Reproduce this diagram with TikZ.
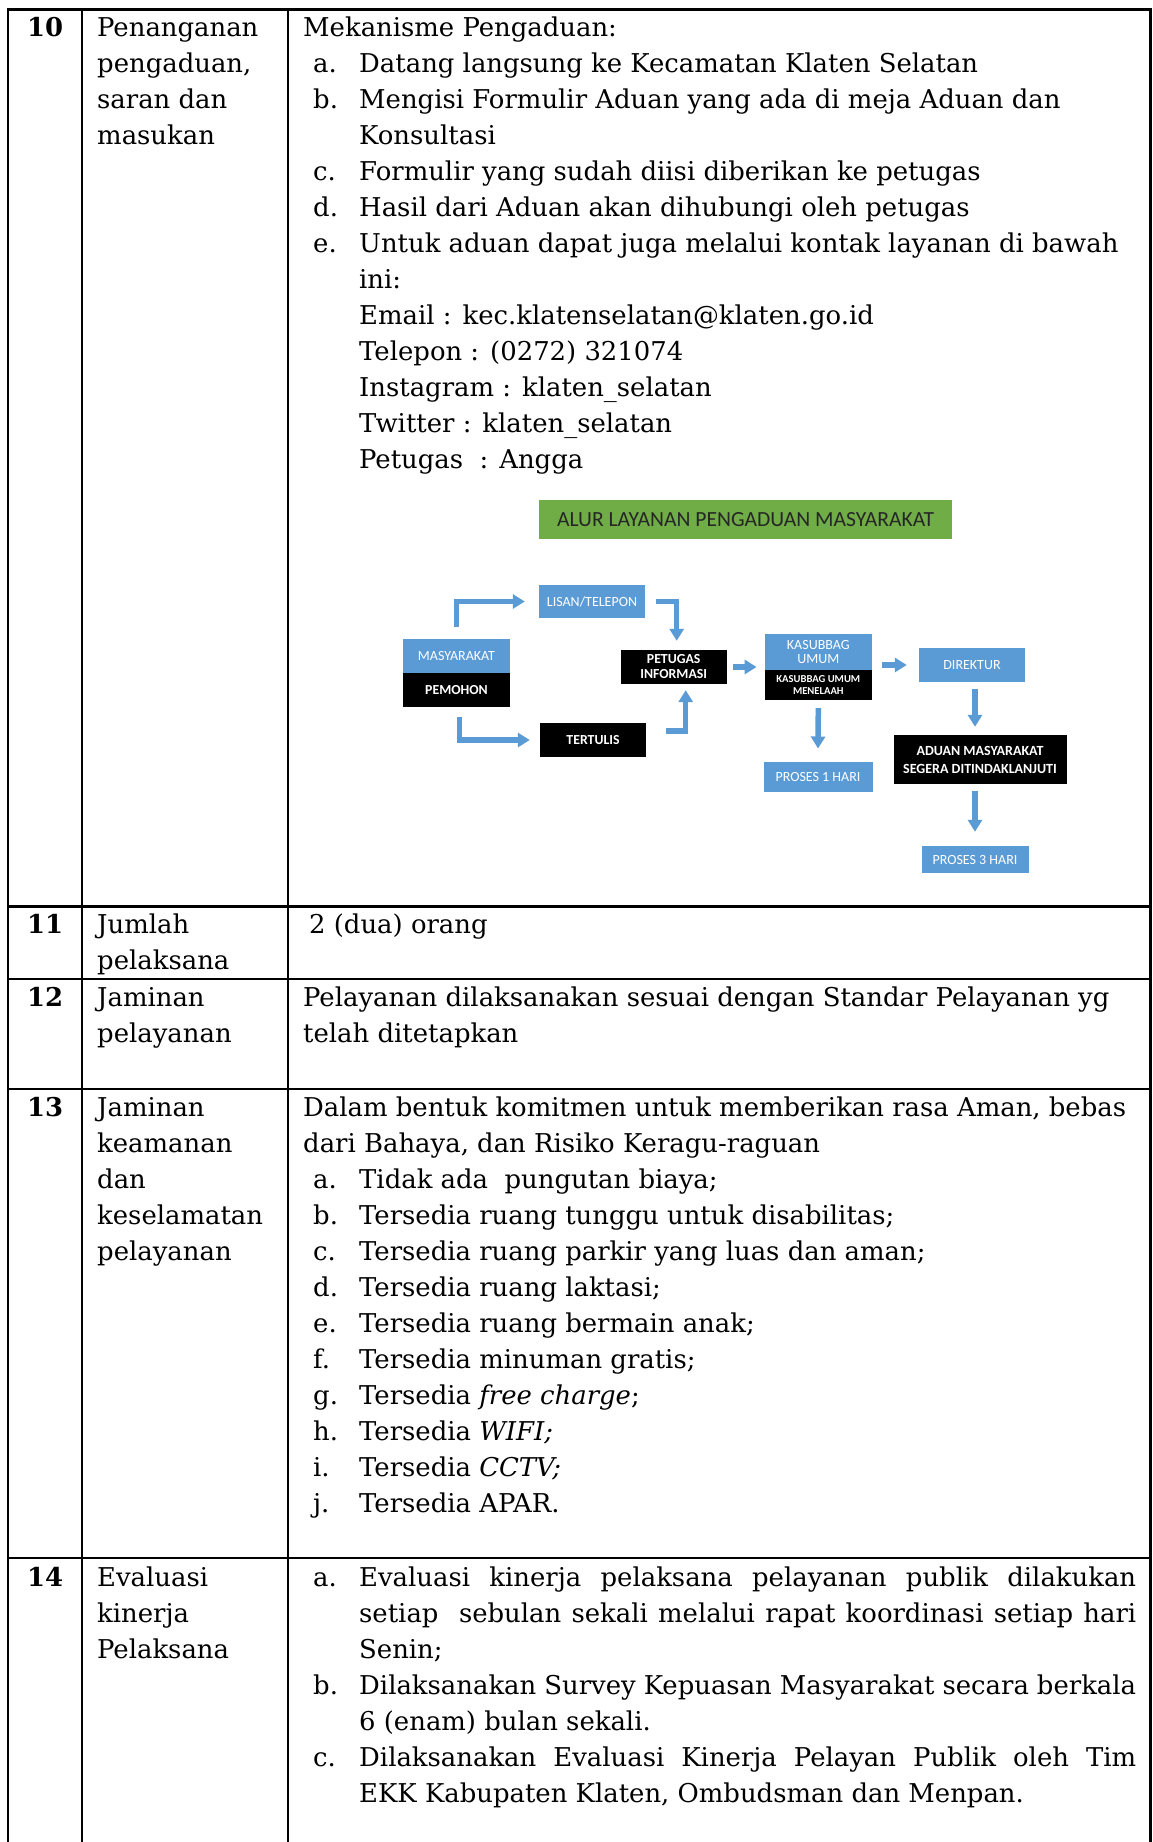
\documentclass[tikz,border=0pt]{standalone}
\usepackage{fontspec}
\setmainfont{DejaVu Serif}
\newfontfamily\diafont{Carlito}
\usetikzlibrary{arrows.meta}
\definecolor{boxblue}{HTML}{5B9BD5}
\definecolor{boxgreen}{HTML}{70AD47}
\newcommand\dfont{\diafont}
\begin{document}
\begin{tikzpicture}[x=1pt,y=-1pt,
  txt/.style={anchor=base west, inner sep=0pt, font=\fontsize{25.9}{36}\selectfont},
  num/.style={anchor=base west, inner sep=0pt, font=\fontsize{25.9}{36}\selectfont\bfseries},
  rule/.style={line width=2.6pt},
  bbox/.style={fill=boxblue, text=white, inner sep=0pt, align=center, font=\dfont\fontsize{14}{15}\selectfont},
  kbox/.style={fill=black, text=white, inner sep=0pt, align=center, font=\dfont\bfseries\fontsize{13.8}{15}\selectfont},
  arr/.style={draw=boxblue, line width=5.5pt, -{Triangle[length=12pt,width=14pt]}}]
\useasboundingbox (0,0) rectangle (1152,1842);
\fill[white] (0,0) rectangle (1152,1842);
% table grid
\draw[rule] (8,1842) -- (8,9.3) -- (1150.5,9.3) -- (1150.5,1842);
\draw[rule] (82,9.3) -- (82,1842);
\draw[rule] (288,9.3) -- (288,1842);
\foreach \yy in {906.5,979,1089,1558} \draw[rule] (8,\yy) -- (1150.5,\yy);

% ---- row 10
\node[num] (n10) at (27,36) {10};
\node[txt] (h10a) at (97,36) {Penanganan};
\node[txt] (h10b) at (97,72) {pengaduan,};
\node[txt] (h10c) at (97,108) {saran dan};
\node[txt] (h10d) at (97,144) {masukan};
\node[txt] (c10a) at (303,36) {Mekanisme Pengaduan:};
\node[txt] (l10a) at (313,72) {a.};
\node[txt] (t10a) at (359,72) {Datang langsung ke Kecamatan Klaten Selatan};
\node[txt] (l10b) at (313,108) {b.};
\node[txt] (t10b) at (359,108) {Mengisi Formulir Aduan yang ada di meja Aduan dan};
\node[txt] (t10b2) at (359,144) {Konsultasi};
\node[txt] (l10c) at (313,180) {c.};
\node[txt] (t10c) at (359,180) {Formulir yang sudah diisi diberikan ke petugas};
\node[txt] (l10d) at (313,216) {d.};
\node[txt] (t10d) at (359,216) {Hasil dari Aduan akan dihubungi oleh petugas};
\node[txt] (l10e) at (313,252) {e.};
\node[txt] (t10e) at (359,252) {Untuk aduan dapat juga melalui kontak layanan di bawah};
\node[txt] (t10e2) at (359,288) {ini:};
\node[txt] (t10e3) at (359,324) {Email : kec.klatenselatan@klaten.go.id};
\node[txt] (t10e4) at (359,360) {Telepon : (0272) 321074};
\node[txt] (t10e5) at (359,396) {Instagram : klaten\_selatan};
\node[txt] (t10e6) at (359,432) {Twitter : klaten\_selatan};
\node[txt] (t10e7) at (359,468) {Petugas\ \ : Angga};

% ---- diagram
\node[fill=boxgreen, minimum width=413pt, minimum height=39pt, inner sep=0pt, text=black!85,
  font=\dfont\fontsize{21.6}{22}\selectfont] (title) at (745.5,519.5) {ALUR LAYANAN PENGADUAN MASYARAKAT};
\node[bbox, minimum width=106pt, minimum height=33pt] (lisan) at (592,601.5) {LISAN/TELEPON};
\node[bbox, minimum width=107pt, minimum height=34pt] (masy) at (456.5,656.3) {MASYARAKAT};
\node[kbox, minimum width=107pt, minimum height=34pt] (pemohon) at (456.5,690.3) {PEMOHON};
\node[kbox, minimum width=106pt, minimum height=34pt] (petugas) at (673.7,667) {PETUGAS\\INFORMASI};
\node[kbox, minimum width=106pt, minimum height=34pt] (tertulis) at (593,740) {TERTULIS};
\node[bbox, minimum width=107pt, minimum height=36pt, font=\dfont\fontsize{14}{13.5}\selectfont] (kasub) at (818.3,652) {KASUBBAG\\UMUM};
\node[kbox, minimum width=107pt, minimum height=30pt, font=\dfont\bfseries\fontsize{10.6}{12}\selectfont] (telaah) at (818.3,685) {KASUBBAG UMUM\\MENELAAH};
\node[bbox, minimum width=106pt, minimum height=34pt] (direktur) at (972,665) {DIREKTUR};
\node[kbox, minimum width=173pt, minimum height=49pt, font=\dfont\bfseries\fontsize{14}{18}\selectfont] (aduan) at (980,759.5) {ADUAN MASYARAKAT\\SEGERA DITINDAKLANJUTI};
\node[bbox, minimum width=109pt, minimum height=30pt] (proses1) at (818,776.7) {PROSES 1 HARI};
\node[bbox, minimum width=107pt, minimum height=27pt] (proses3) at (975,859.5) {PROSES 3 HARI};

\draw[arr] ([yshift=12pt]masy.north) |- ([xshift=-14pt]lisan.west);
\draw[arr] ([xshift=11pt]lisan.east) -| ([xshift=3pt,yshift=9pt]petugas.north);
\draw[arr] ([xshift=3pt,yshift=-9pt]pemohon.south) |- ([xshift=-10pt]tertulis.west);
\draw[arr] ([xshift=20pt,yshift=9pt]tertulis.east) -| ([xshift=12pt,yshift=-6pt]petugas.south);
\draw[arr] ([xshift=6pt]petugas.east) -- ([xshift=-8pt]petugas.east -| kasub.west);
\draw[arr] ([xshift=10pt]direktur.west -| kasub.east) -- ([xshift=-12pt]direktur.west);
\draw[arr] ([yshift=-8pt]telaah.south) -- ([yshift=13pt]proses1.north);
\draw[arr] ([xshift=3pt,yshift=-7pt]direktur.south) -- ([xshift=3pt,yshift=8pt]aduan.north -| direktur.south);
\draw[arr] ([xshift=3pt,yshift=-7pt]aduan.south -| direktur.south) -- ([xshift=3pt,yshift=14pt]proses3.north -| direktur.south);

% ---- row 11
\node[num] (n11) at (27,933) {11};
\node[txt] (h11a) at (97,933) {Jumlah};
\node[txt] (h11b) at (97,969) {pelaksana};
\node[txt] (c11a) at (309,933) {2 (dua) orang};

% ---- row 12
\node[num] (n12) at (27,1006) {12};
\node[txt] (h12a) at (97,1006) {Jaminan};
\node[txt] (h12b) at (97,1042) {pelayanan};
\node[txt] (c12a) at (303,1006) {Pelayanan dilaksanakan sesuai dengan Standar Pelayanan yg};
\node[txt] (c12b) at (303,1042) {telah ditetapkan};

% ---- row 13
\node[num] (n13) at (27,1116) {13};
\node[txt] (h13a) at (97,1116) {Jaminan};
\node[txt] (h13b) at (97,1152) {keamanan};
\node[txt] (h13c) at (97,1188) {dan};
\node[txt] (h13d) at (97,1224) {keselamatan};
\node[txt] (h13e) at (97,1260) {pelayanan};
\node[txt] (c13a) at (303,1116) {Dalam bentuk komitmen untuk memberikan rasa Aman, bebas};
\node[txt] (c13b) at (303,1152) {dari Bahaya, dan Risiko Keragu-raguan};
\node[txt] (l13a) at (313,1188) {a.};
\node[txt] (t13a) at (359,1188) {Tidak ada\ \ pungutan biaya;};
\node[txt] (l13b) at (313,1224) {b.};
\node[txt] (t13b) at (359,1224) {Tersedia ruang tunggu untuk disabilitas;};
\node[txt] (l13c) at (313,1260) {c.};
\node[txt] (t13c) at (359,1260) {Tersedia ruang parkir yang luas dan aman;};
\node[txt] (l13d) at (313,1296) {d.};
\node[txt] (t13d) at (359,1296) {Tersedia ruang laktasi;};
\node[txt] (l13e) at (313,1332) {e.};
\node[txt] (t13e) at (359,1332) {Tersedia ruang bermain anak;};
\node[txt] (l13f) at (313,1368) {f.};
\node[txt] (t13f) at (359,1368) {Tersedia minuman gratis;};
\node[txt] (l13g) at (313,1404) {g.};
\node[txt] (t13g) at (359,1404) {Tersedia \textit{free charge};};
\node[txt] (l13h) at (313,1440) {h.};
\node[txt] (t13h) at (359,1440) {Tersedia \textit{WIFI;}};
\node[txt] (l13i) at (313,1476) {i.};
\node[txt] (t13i) at (359,1476) {Tersedia \textit{CCTV;}};
\node[txt] (l13j) at (313,1512) {j.};
\node[txt] (t13j) at (359,1512) {Tersedia APAR.};

% ---- row 14
\node[num] (n14) at (27,1586) {14};
\node[txt] (h14a) at (97,1586) {Evaluasi};
\node[txt] (h14b) at (97,1622) {kinerja};
\node[txt] (h14c) at (97,1658) {Pelaksana};
\node[txt] (l14a) at (313,1586) {a.};
\node[txt] (t14a) at (359,1586) {\makebox[777pt][s]{Evaluasi kinerja pelaksana pelayanan publik dilakukan}};
\node[txt] (t14a2) at (359,1622) {\makebox[777pt][s]{setiap\ \ sebulan sekali melalui rapat koordinasi setiap hari}};
\node[txt] (t14a3) at (359,1658) {Senin;};
\node[txt] (l14b) at (313,1694) {b.};
\node[txt] (t14b) at (359,1694) {\makebox[777pt][s]{Dilaksanakan Survey Kepuasan Masyarakat secara berkala}};
\node[txt] (t14b2) at (359,1730) {6 (enam) bulan sekali.};
\node[txt] (l14c) at (313,1766) {c.};
\node[txt] (t14c) at (359,1766) {\makebox[777pt][s]{Dilaksanakan Evaluasi Kinerja Pelayan Publik oleh Tim}};
\node[txt] (t14c2) at (359,1802) {EKK Kabupaten Klaten, Ombudsman dan Menpan.};
\end{tikzpicture}
\end{document}
